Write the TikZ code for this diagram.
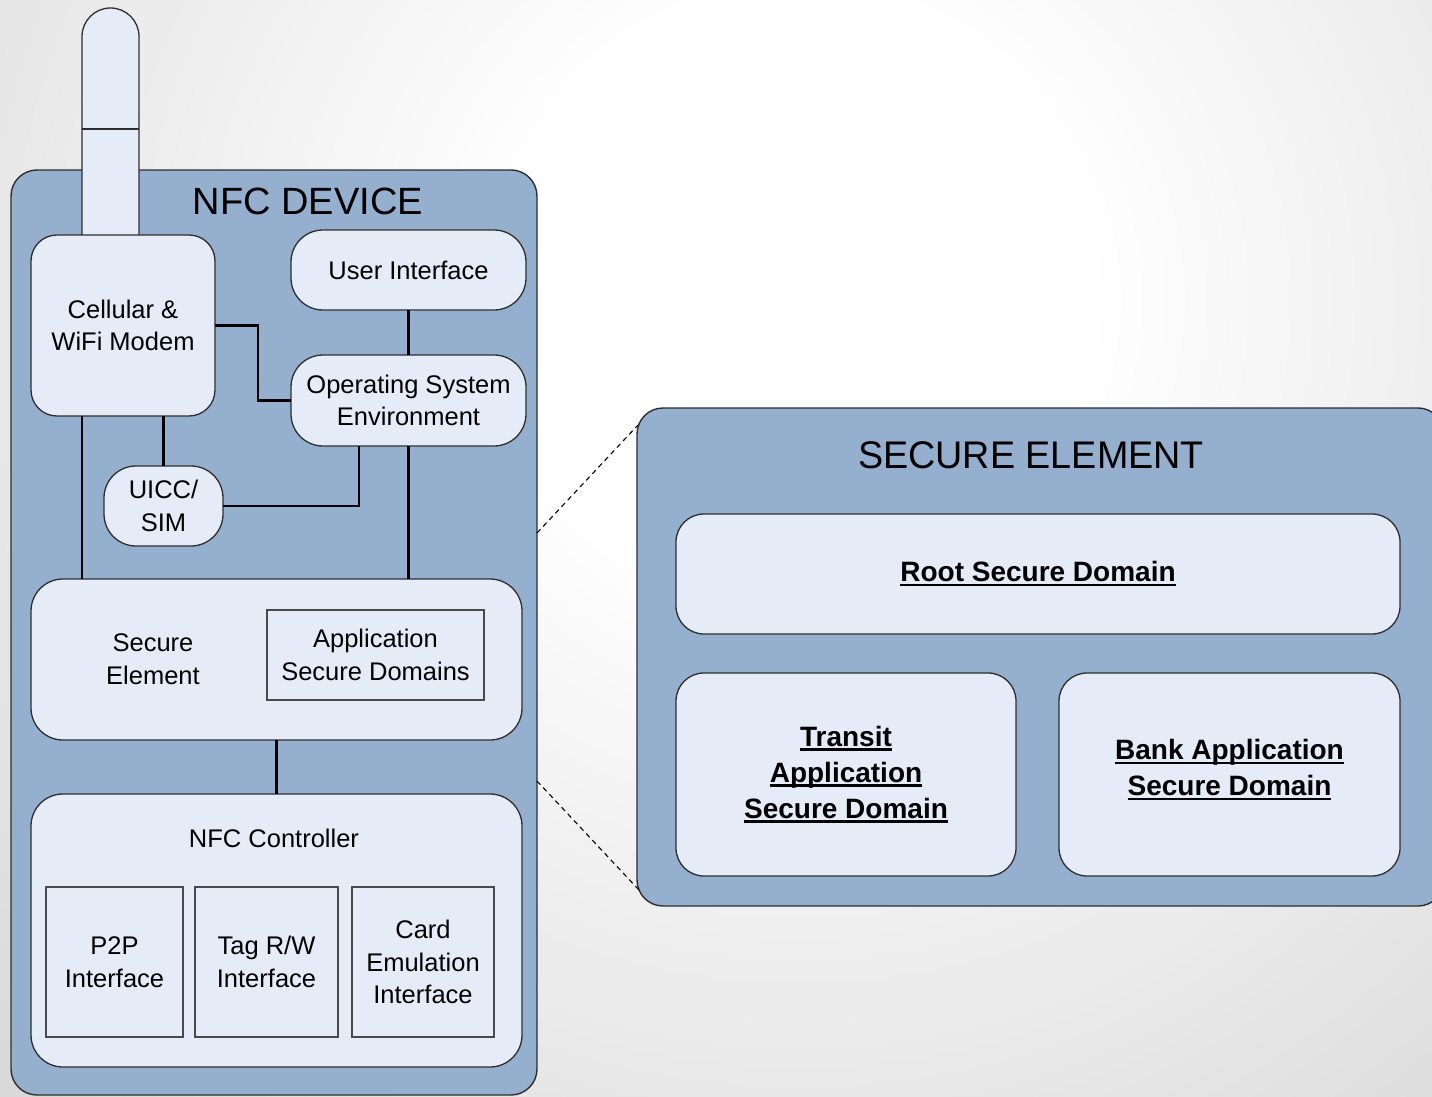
\documentclass[tikz,border=0pt]{standalone}
\usepackage{fontspec}
\setmainfont{Liberation Sans}
\newfontfamily\condfont[FakeStretch=0.98]{Liberation Sans}
\usetikzlibrary{calc}

\definecolor{bggray}{HTML}{D8D8D8}
\definecolor{panelblue}{HTML}{95AFCF}
\definecolor{boxfill}{HTML}{E6ECF7}
\definecolor{edge}{HTML}{2E2E2E}
\definecolor{rectedge}{HTML}{4A4A4A}

% underline at a fixed distance below the baseline
\newcommand\ulbox[1]{\setbox0\hbox{#1}\rlap{\vrule height -2pt depth 4.6pt width \wd0}\box0}

\tikzset{
  panel/.style={draw=edge, line width=1.4pt, fill=panelblue, rounded corners=26pt,
    inner sep=0pt, outer sep=0pt},
  rbox/.style={draw=edge, line width=1.3pt, fill=boxfill, rounded corners=#1,
    inner sep=0pt, outer sep=0pt, align=center, font=\fontsize{25.5}{32.5}\selectfont},
  rbox/.default=28pt,
  sqbox/.style={draw=rectedge, line width=1.4pt, fill=boxfill, inner sep=0pt,
    outer sep=0pt, align=center, font=\fontsize{25.5}{32.5}\selectfont},
  sdbox/.style={rbox, font=\bfseries\fontsize{28}{36}\selectfont},
  txt/.style={inner sep=0pt, align=center, font=\fontsize{25.5}{32.5}\selectfont},
  link/.style={line width=2.6pt, black},
  zoomline/.style={line width=1.1pt, black, dash pattern=on 5pt off 4pt},
}

\begin{document}
\begin{tikzpicture}[x=1pt, y=-1pt]
\useasboundingbox (0,0) rectangle (1432,1097);
\clip (0,0) rectangle (1432,1097);

% background: grey edges fading to a white glow
\fill[bggray] (0,0) rectangle (1432,1097);
\foreach \i in {0,...,40} {
  \pgfmathsetmacro\glowr{1150-\i*21.25}
  \pgfmathsetmacro\glowm{\i*2.5}
  \fill[white!\glowm!bggray] (800,300) circle (\glowr);
}

% ---------------- NFC device ----------------
\node[panel, minimum width=526, minimum height=925] (device) at (274,632.5) {};
\node[font=\fontsize{38}{44}\selectfont, inner sep=0pt] (devtitle) at (308,201) {NFC DEVICE};

% antenna
\draw[draw=edge, line width=1.3pt, fill=boxfill]
  (82,235) -- (82,36.5) arc[start angle=180, end angle=360, radius=28.5] -- (139,235);
\draw[draw=edge, line width=1.3pt] (82,129) -- (139,129);

\node[rbox=26pt, minimum width=184, minimum height=181] (modem) at (123,325.5)
  {Cellular \&\\WiFi Modem};
\node[rbox=32pt, minimum width=235, minimum height=80] (ui) at (408.5,270)
  {User Interface};
\node[rbox=32pt, minimum width=235, minimum height=91] (os) at (408.5,400.5)
  {Operating System\\Environment};
\node[rbox=32pt, minimum width=119, minimum height=80] (uicc) at (163.5,506)
  {UICC/\\SIM};

\node[rbox=32pt, minimum width=491, minimum height=161] (se) at (276.5,659.5) {};
\node[txt] (setext) at (153,659) {Secure\\Element};
\node[sqbox, minimum width=217, minimum height=90] (asd) at (375.5,655)
  {Application\\Secure Domains};

\node[rbox=32pt, minimum width=491, minimum height=273] (nfcc) at (276.5,930.5) {};
\node[txt] (nfcctext) at (274,838) {NFC Controller};
\node[sqbox, minimum width=137, minimum height=150] (p2p) at (114.5,962)
  {P2P\\Interface};
\node[sqbox, minimum width=143, minimum height=150] (tag) at (266.5,962)
  {Tag R/W\\Interface};
\node[sqbox, minimum width=142, minimum height=150] (card) at (423,962)
  {Card\\Emulation\\Interface};

% connections inside the device
\draw[link] (ui.south) -- (os.north);
\draw[link] (modem.east) -- ++(43,0) |- (os.west);
\draw[link] (uicc.north |- modem.south) -- (uicc.north);
\draw[link] (uicc.east) -| ([xshift=68pt]os.south west);
\draw[link] ([xshift=51pt]modem.south west) -- ([xshift=51pt]modem.south west |- se.north);
\draw[link] (os.south) -- (os.south |- se.north);
\draw[link] (se.south) -- (se.south |- nfcc.north);

% ---------------- secure element detail ----------------
\node[panel, minimum width=807, minimum height=498] (sepanel) at (1040.5,657) {};
\node[font=\condfont\fontsize{38.5}{44}\selectfont, inner sep=0pt] (setitle) at (1031,455)
  {SECURE ELEMENT};

\node[sdbox, minimum width=724, minimum height=120] (root) at (1038,574)
  {\ulbox{Root Secure Domain}};
\node[sdbox, minimum width=340, minimum height=203] (transit) at (846,774.5)
  {\ulbox{Transit}\\\ulbox{Application}\\\ulbox{Secure Domain}};
\node[sdbox, minimum width=341, minimum height=203] (bank) at (1229.5,774.5) {};
\node[txt, font=\bfseries\fontsize{28}{36}\selectfont] (banktext) at (1229.5,770)
  {\ulbox{Bank Application}\\\ulbox{Secure Domain}};

% zoom guides from the device to the detail panel
\coordinate (zoomA1) at (537,533);
\coordinate (zoomA2) at (638,425);
\coordinate (zoomB1) at (537,781);
\coordinate (zoomB2) at (639,890);
\draw[zoomline] (zoomA1) -- (zoomA2);
\draw[zoomline] (zoomB1) -- (zoomB2);
\end{tikzpicture}
\end{document}
